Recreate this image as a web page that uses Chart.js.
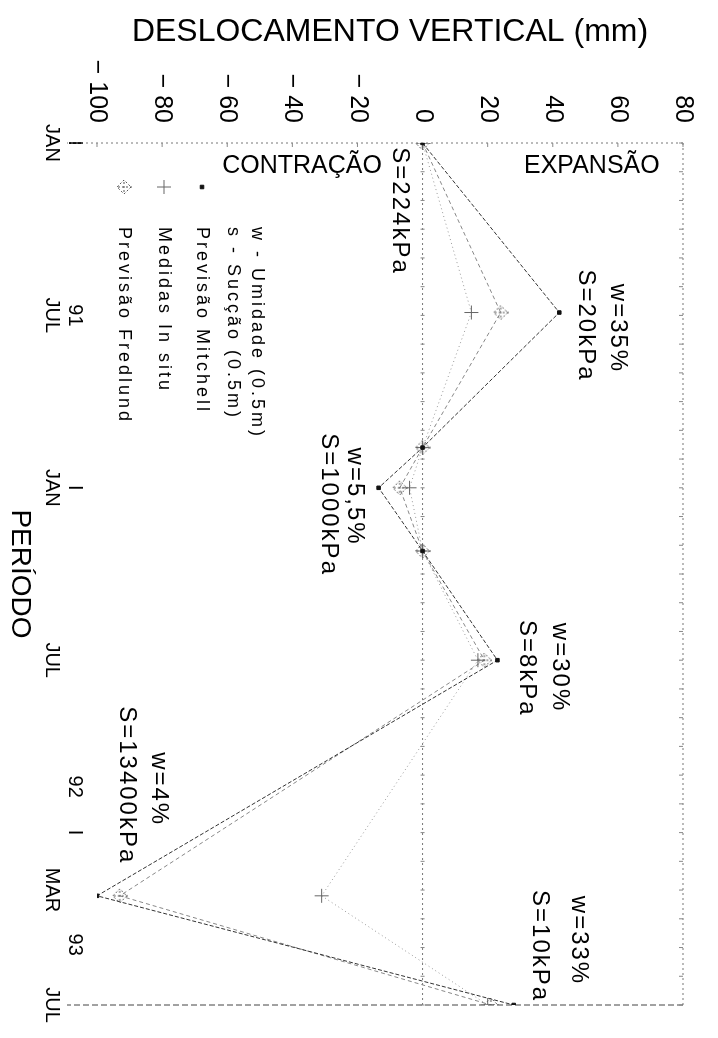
<!DOCTYPE html>
<html>
<head>
<meta charset="utf-8">
<script src="https://cdn.jsdelivr.net/npm/chart.js@4.4.0/dist/chart.umd.min.js"></script>
<style>
  html, body { margin: 0; padding: 0; background: #fff; overflow: hidden; }
  #wrap { position: absolute; left: 0; top: 0; width: 1038px; height: 718px;
          transform-origin: 0 0; transform: translateX(718px) rotate(90deg); }
</style>
</head>
<body>
<div id="wrap"><canvas id="chart" width="1038" height="718"></canvas></div>
<script>
// months counted from JAN 91
const monthPos = [0, 5.9, 10.6, 12, 14.2, 18, 26.2, 30];
const mitchell = [0, 42, 0, -13.5, 0, 23, -100, 28];
const medidas  = [0, 15, 0, -4, 0, 17, -31, 20];
const fredlund = [0, 24, 0, -7, 0, 19, -93, 21];

const dispTicks   = [-100, -80, -60, -40, -20, 0, 20, 40, 60, 80];
const monthTicks  = [0, 6, 12, 18, 26, 30];
const monthLabels = ['JAN', 'JUL', 'JAN', 'JUL', 'MAR', 'JUL'];
const yearTicks   = [0, 6, 12, 22.4, 24, 27.9];
const yearLabels  = ['I', '91', 'I', '92', 'I', '93'];

const seriesNames = ['Previsão Mitchell', 'Medidas In situ', 'Previsão Fredlund'];
const noteLines   = ['w - Umidade (0.5m)', 's - Sucção (0.5m)'];

// text notes next to the peaks: [text, month, mm]
const peakNotes = [
  ['S=224kPa', 0.15, -7],
  ['w=35%', 4.9, 60],
  ['S=20kPa', 4.4, 50],
  ['w=5,5%', 10.6, -21],
  ['S=1000kPa', 10.1, -29],
  ['w=30%', 16.7, 42],
  ['S=8kPa', 16.6, 32],
  ['w=4%', 21.2, -81],
  ['S=13400kPa', 19.6, -91],
  ['w=33%', 26.2, 48],
  ['S=10kPa', 26.0, 36]
];

const pts = vals => vals.map((v, i) => ({ x: monthPos[i], y: v }));

// Fredlund marker: dotted diamond with a cross
const fredMark = (() => {
  const c = document.createElement('canvas');
  c.width = 16; c.height = 16;
  const g = c.getContext('2d');
  g.strokeStyle = '#555'; g.lineWidth = 1; g.setLineDash([2, 2]);
  g.beginPath();
  g.moveTo(8, 1); g.lineTo(15, 8); g.lineTo(8, 15); g.lineTo(1, 8); g.closePath();
  g.moveTo(8, 0); g.lineTo(8, 16); g.moveTo(3, 8); g.lineTo(13, 8);
  g.stroke();
  return c;
})();

const FONT = '"Liberation Sans", Arial, sans-serif';

const frame = {
  id: 'frame',
  beforeDatasetsDraw(chart) {
    const { ctx, chartArea: a, scales } = chart;
    const x = scales.x, y = scales.y;
    ctx.save();
    ctx.strokeStyle = '#777';
    ctx.lineWidth = 1;
    ctx.setLineDash([2, 3]);
    ctx.beginPath();
    ctx.moveTo(a.left, a.top); ctx.lineTo(a.left, a.bottom + 30);
    ctx.moveTo(a.left, a.top); ctx.lineTo(a.right, a.top);
    const y0 = y.getPixelForValue(0);
    ctx.moveTo(a.left, y0); ctx.lineTo(a.right, y0);
    ctx.stroke();
    ctx.strokeStyle = '#444';
    ctx.setLineDash([6, 3]);
    ctx.beginPath();
    ctx.moveTo(a.right, a.top); ctx.lineTo(a.right, a.bottom + 30);
    ctx.stroke();
    ctx.setLineDash([]);
    ctx.strokeStyle = '#888';
    ctx.beginPath();
    for (let m = 0; m <= 30; m++) {
      const px = x.getPixelForValue(m);
      ctx.moveTo(px, a.top); ctx.lineTo(px, a.top + 4);
      ctx.moveTo(px, y0 - 2); ctx.lineTo(px, y0 + 2);
    }
    dispTicks.forEach(v => {
      const py = y.getPixelForValue(v);
      ctx.moveTo(a.left, py); ctx.lineTo(a.left + 4, py);
    });
    ctx.stroke();
    ctx.restore();
  },
  afterDatasetsDraw(chart) {
    const { ctx, chartArea: a, scales } = chart;
    const x = scales.x, y = scales.y;
    ctx.save();
    ctx.fillStyle = '#000';
    ctx.textBaseline = 'middle';
    ctx.textAlign = 'left';
    ctx.letterSpacing = '2px';
    ctx.font = '24px ' + FONT;
    peakNotes.forEach(([t, m, v]) => ctx.fillText(t, x.getPixelForValue(m), y.getPixelForValue(v)));

    // legend block
    ctx.letterSpacing = '3px';
    ctx.font = '18px ' + FONT;
    const tx = 227, rows = [461, 485, 516, 554, 594];
    ctx.fillText(noteLines[0], tx, rows[0]);
    ctx.fillText(noteLines[1], tx, rows[1]);
    chart.data.datasets.forEach((ds, i) => {
      const ry = rows[i + 2];
      ctx.fillStyle = '#000';
      ctx.fillText(seriesNames[i], tx, ry);
      ctx.strokeStyle = ds.pointBorderColor;
      ctx.fillStyle = ds.pointBackgroundColor;
      Chart.helpers.drawPoint(ctx, {
        pointStyle: ds.pointStyle, radius: ds.pointRadius, borderWidth: 1, rotation: 0
      }, 187, ry);
    });

    // CONTRAÇÃO / EXPANSÃO read across the turned page
    ctx.letterSpacing = '0px';
    ctx.font = '25px ' + FONT;
    ctx.fillStyle = '#000';
    ctx.textAlign = 'center';
    [['CONTRAÇÃO', -37], ['EXPANSÃO', 52]].forEach(([t, v]) => {
      ctx.save();
      ctx.translate(a.left + 23, y.getPixelForValue(v));
      ctx.rotate(-Math.PI / 2);
      ctx.fillText(t, 0, 0);
      ctx.restore();
    });
    ctx.restore();
  }
};

new Chart(document.getElementById('chart'), {
  type: 'line',
  data: {
    datasets: [
      { label: seriesNames[0], data: pts(mitchell), borderColor: '#333', borderWidth: 1,
        borderDash: [4, 2], pointStyle: 'rect', pointRadius: 2.5,
        pointBackgroundColor: '#111', pointBorderColor: '#111' },
      { label: seriesNames[1], data: pts(medidas), borderColor: '#999', borderWidth: 1,
        borderDash: [1, 3], pointStyle: 'cross', pointRadius: 7,
        pointBackgroundColor: '#666', pointBorderColor: '#666' },
      { label: seriesNames[2], data: pts(fredlund), borderColor: '#888', borderWidth: 1,
        borderDash: [4, 3], pointStyle: fredMark, pointRadius: 8,
        pointBackgroundColor: '#555', pointBorderColor: '#555' }
    ]
  },
  options: {
    responsive: false,
    animation: false,
    layout: { padding: { top: 21, right: 33, left: 0, bottom: 0 } },
    plugins: { legend: { display: false }, tooltip: { enabled: false } },
    elements: { line: { tension: 0, fill: false } },
    scales: {
      x: {
        type: 'linear', position: 'bottom', min: 0, max: 30, weight: 1,
        afterBuildTicks: s => { s.ticks = yearTicks.map(v => ({ value: v })); },
        afterFit: s => { s.height = 33; },
        grid: { display: false, drawTicks: false },
        border: { display: false },
        ticks: { padding: 10, maxRotation: 0, autoSkip: false, color: '#000',
                 font: { family: FONT, size: 20 }, callback: (v, i) => yearLabels[i] }
      },
      xMonth: {
        type: 'linear', position: 'bottom', min: 0, max: 30, weight: 2,
        afterBuildTicks: s => { s.ticks = monthTicks.map(v => ({ value: v })); },
        afterFit: s => { s.height = 64; },
        grid: { display: false, drawTicks: false },
        border: { display: false },
        ticks: { padding: 0, maxRotation: 0, autoSkip: false, color: '#000',
                 font: { family: FONT, size: 20 }, callback: (v, i) => monthLabels[i] },
        title: { display: true, text: 'PERÍODO', color: '#000', padding: { bottom: 3 },
                 font: { family: FONT, size: 28 } }
      },
      y: {
        type: 'linear', position: 'left', min: -100, max: 80,
        afterBuildTicks: s => { s.ticks = dispTicks.map(v => ({ value: v })); },
        afterFit: s => { s.width = 143; },
        grid: { display: false, drawTicks: false },
        border: { display: false },
        ticks: { padding: 20, color: '#000', font: { family: FONT, size: 25 },
                 callback: v => (v < 0 ? '\u2212 ' + Math.abs(v) : String(v)) },
        title: { display: true, text: 'DESLOCAMENTO VERTICAL (mm)', color: '#000',
                 padding: { top: 13 }, font: { family: FONT, size: 32 } }
      }
    }
  },
  plugins: [frame]
});
</script>
</body>
</html>
